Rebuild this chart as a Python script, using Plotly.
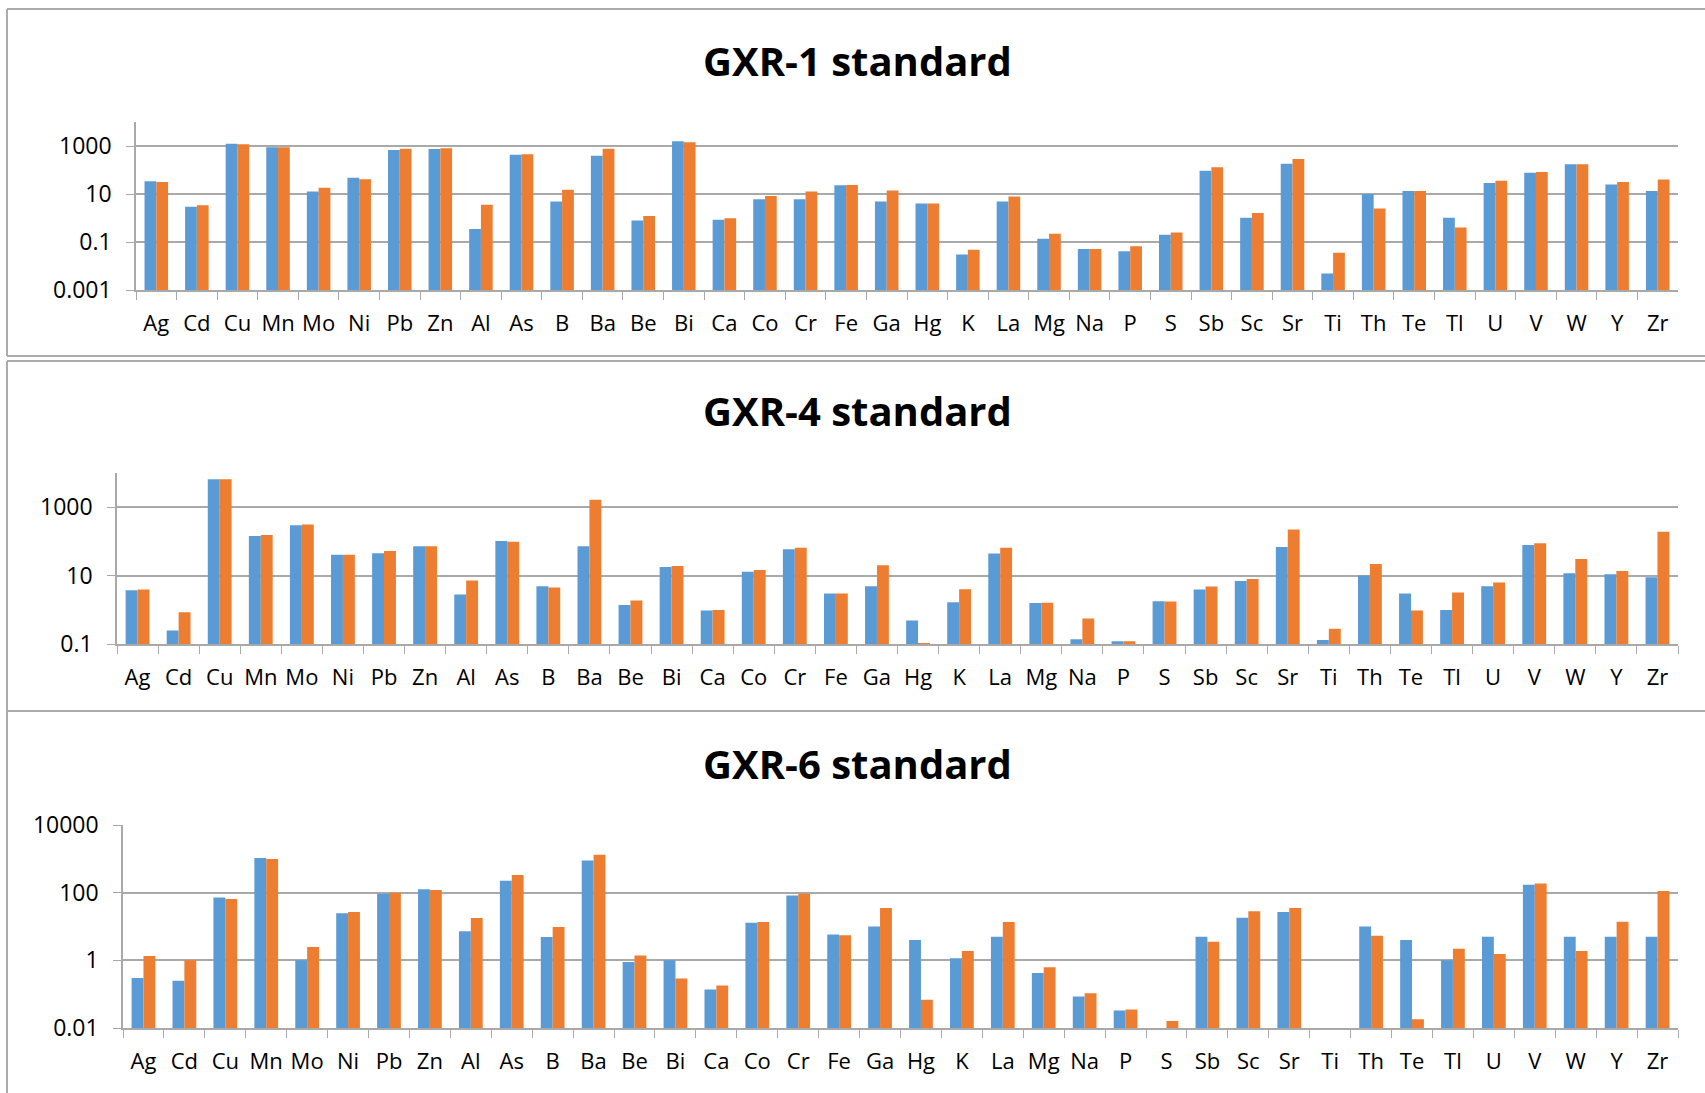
import plotly.graph_objects as go

elements = ["Ag", "Cd", "Cu", "Mn", "Mo", "Ni", "Pb", "Zn", "Al", "As", "B", "Ba", "Be", "Bi",
            "Ca", "Co", "Cr", "Fe", "Ga", "Hg", "K", "La", "Mg", "Na", "P", "S", "Sb", "Sc",
            "Sr", "Ti", "Th", "Te", "Tl", "U", "V", "W", "Y", "Zr"]

gxr1_a = [34, 2.95, 1250, 880, 12.6, 48, 680, 750, 0.35, 435, 4.9, 395, 0.79, 1560,
          0.85, 6.0, 6.0, 23, 4.9, 4.0, 0.03, 4.9, 0.138, 0.051, 0.041, 0.20, 93, 1.02,
          183, 0.0049, 10, 13.3, 1.02, 29, 77, 173, 25, 13.3]
gxr1_b = [31.6, 3.4, 1170, 880, 18.3, 41, 775, 800, 3.6, 450, 15, 775, 1.21, 1420,
          0.97, 8.3, 12.6, 23.7, 14, 4.0, 0.048, 7.8, 0.22, 0.051, 0.066, 0.25, 129, 1.6,
          287, 0.036, 2.5, 13.3, 0.40, 36, 83, 173, 32, 40]

gxr4_a = [3.7, 0.247, 6600, 145, 295, 41, 45, 72, 2.8, 103, 4.9, 72, 1.37, 17.8,
          0.95, 12.9, 59, 3.0, 4.9, 0.49, 1.66, 44, 1.57, 0.137, 0.12, 1.78, 3.9, 6.9,
          69, 0.13, 10, 3.0, 0.99, 4.9, 79, 11.7, 11, 9.0]
gxr4_b = [3.9, 0.85, 6600, 155, 310, 41, 52, 72, 7.2, 98, 4.5, 1640, 1.87, 19,
          0.98, 14.5, 65, 3.0, 20, 0.107, 4.0, 65, 1.6, 0.56, 0.12, 1.75, 4.8, 7.9,
          221, 0.28, 22, 0.95, 3.2, 6.3, 88, 30.5, 13.7, 190]

gxr6_a = [0.30, 0.25, 72, 1050, 1.0, 24.5, 93, 126, 7.2, 226, 4.9, 890, 0.89, 1.0,
          0.138, 13, 83, 5.8, 10, 4.0, 1.15, 5.0, 0.42, 0.085, 0.033, None, 5.0, 18.2,
          27, None, 10, 4.0, 1.0, 5.0, 170, 5.0, 5.0, 5.0]
gxr6_b = [1.34, 1.0, 65, 990, 2.46, 27, 100, 120, 17.9, 333, 9.7, 1330, 1.4, 0.29,
          0.18, 13.5, 93, 5.5, 35, 0.068, 1.9, 13.5, 0.62, 0.106, 0.035, 0.016, 3.55, 28,
          35, None, 5.3, 0.018, 2.2, 1.55, 186, 1.9, 13.8, 112]

titles = ["GXR-1 standard", "GXR-4 standard", "GXR-6 standard"]

W, H = 1705, 1093
BLUE = "#5B9BD5"
ORANGE = "#ED7D31"
GRID = "#A9A9A9"
FONT = "Open Sans"

panels = [
    dict(a=gxr1_a, b=gxr1_b, x0=136, x1=1678, ytop=122, ybot=290, rng=[-3, 4],
         tv=[0.001, 0.1, 10, 1000], tt=["0.001", "0.1", "10", "1000"], ty=60),
    dict(a=gxr4_a, b=gxr4_b, x0=117, x1=1678, ytop=473, ybot=644, rng=[-1, 4],
         tv=[0.1, 10, 1000], tt=["0.1", "10", "1000"], ty=411),
    dict(a=gxr6_a, b=gxr6_b, x0=123, x1=1678, ytop=825, ybot=1028, rng=[-2, 4],
         tv=[0.01, 1, 100, 10000], tt=["0.01", "1", "100", "10000"], ty=763),
]

fig = go.Figure()
annotations = []
for i, p in enumerate(panels):
    n = "" if i == 0 else str(i + 1)
    xa, ya = "x" + n, "y" + n
    for vals, col in ((p["a"], BLUE), (p["b"], ORANGE)):
        fig.add_trace(go.Bar(x=elements, y=vals, xaxis=xa, yaxis=ya,
                             marker=dict(color=col, line=dict(width=0)),
                             showlegend=False))
    fig.layout["xaxis" + n] = dict(
        domain=[p["x0"] / W, p["x1"] / W], anchor=ya, type="category",
        showline=True, linecolor=GRID, linewidth=1.5, ticks="outside",
        tickson="boundaries", ticklen=8, tickcolor=GRID, tickwidth=1,
        tickangle=0, automargin=False,
        tickfont=dict(family=FONT, size=22, color="#000000"),
        ticklabelstandoff=13, showgrid=False, fixedrange=True)
    fig.layout["yaxis" + n] = dict(
        domain=[1 - p["ybot"] / H, 1 - p["ytop"] / H], anchor=xa, type="log",
        range=p["rng"], tickvals=p["tv"], ticktext=p["tt"],
        showline=True, linecolor=GRID, linewidth=1.5, ticks="outside",
        ticklen=8, tickcolor=GRID, tickwidth=1, showgrid=True,
        gridcolor=GRID, gridwidth=1.5, zeroline=False, automargin=False,
        tickfont=dict(family=FONT, size=23, color="#000000"),
        ticklabelstandoff=10, fixedrange=True)
    annotations.append(dict(text="<b>" + titles[i] + "</b>", xref="paper", yref="paper",
                            x=857 / W, y=1 - p["ty"] / H, xanchor="center",
                            yanchor="middle", showarrow=False,
                            font=dict(family=FONT, size=40, color="#000000")))

BORDER = "#ABABAB"
shapes = []
def hline(y, x0=7, x1=W + 5):
    shapes.append(dict(type="line", xref="paper", yref="paper",
                       x0=x0 / W, x1=x1 / W, y0=1 - y / H, y1=1 - y / H,
                       line=dict(color=BORDER, width=2)))
def vline(x, y0, y1):
    shapes.append(dict(type="line", xref="paper", yref="paper",
                       x0=x / W, x1=x / W, y0=1 - y0 / H, y1=1 - y1 / H,
                       line=dict(color=BORDER, width=2)))

hline(9)
hline(356)
hline(361)
hline(711)
vline(7, 9, 356)
vline(7, 361, 711)
vline(7, 711, H + 5)

fig.update_layout(width=W, height=H, margin=dict(l=0, r=0, t=0, b=0, autoexpand=False),
                  paper_bgcolor="white", plot_bgcolor="white",
                  barmode="group", bargap=0.42, bargroupgap=0,
                  annotations=annotations, shapes=shapes)

fig.write_html("out.html", config={"displayModeBar": False},
               post_script="document.body.style.margin='0';document.body.style.padding='0';")
